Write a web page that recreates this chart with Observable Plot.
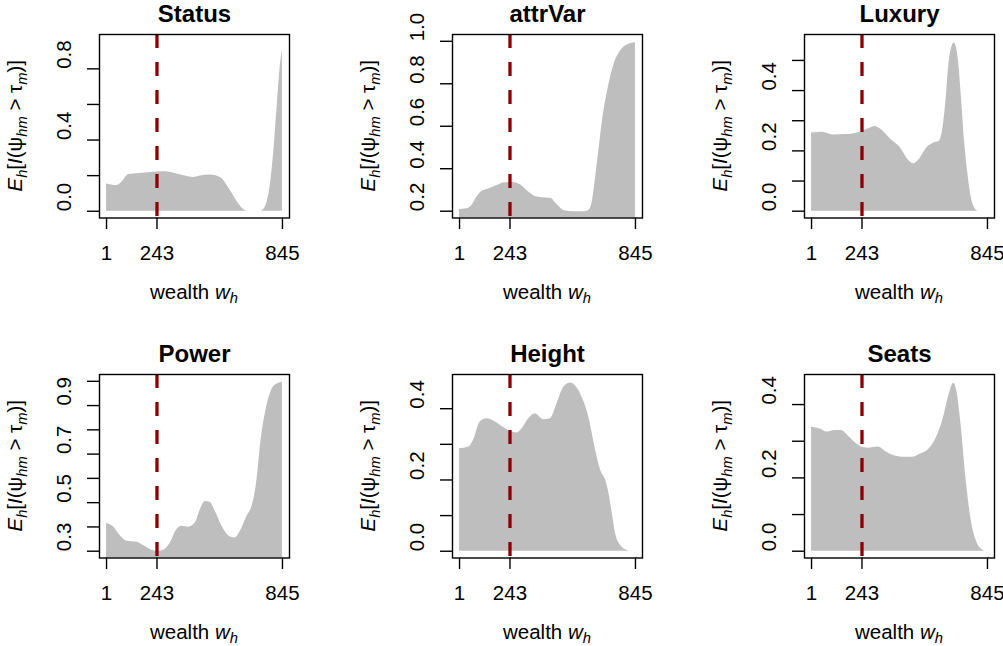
<!DOCTYPE html>
<html><head><meta charset="utf-8">
<script src="https://cdn.jsdelivr.net/npm/d3@7"></script>
<script src="https://cdn.jsdelivr.net/npm/@observablehq/plot@0.6"></script>
<style>
html,body{margin:0;padding:0;background:#fff;overflow:hidden;}
#wrap{position:relative;width:1003px;height:646px;background:#fff;}
#wrap svg{position:absolute;overflow:visible;max-width:none;}
</style></head><body><div id="wrap"></div>
<script>
// ---- data ----
const titles = ["Status", "attrVar", "Luxury", "Power", "Height", "Seats"];
const xTicks = [1, 243, 845];
const cutoff = 243;

const statusW = [1, 50, 75, 107, 131, 179, 243, 283, 339, 419, 451, 499, 547, 595, 635, 667, 675, 739, 755, 771, 787, 803, 819, 835, 845];
const statusP = [0.153, 0.144, 0.163, 0.206, 0.209, 0.213, 0.220, 0.222, 0.209, 0.190, 0.198, 0.204, 0.190, 0.116, 0.041, 0.004, 0, 0, 0.01, 0.05, 0.15, 0.33, 0.58, 0.82, 0.905];

const attrW = [1, 36, 60, 84, 108, 141, 181, 221, 261, 293, 333, 365, 397, 437, 469, 501, 549, 598, 622, 638, 654, 670, 686, 710, 742, 774, 806, 845];
const attrP = [0.208, 0.211, 0.227, 0.266, 0.293, 0.304, 0.321, 0.334, 0.335, 0.324, 0.290, 0.269, 0.263, 0.261, 0.231, 0.203, 0.197, 0.197, 0.205, 0.245, 0.36, 0.49, 0.62, 0.76, 0.89, 0.955, 0.982, 0.993];

const luxW = [1, 55, 103, 168, 233, 281, 305, 330, 378, 427, 467, 492, 516, 557, 589, 613, 630, 646, 662, 686, 706, 719, 735, 751, 767, 783, 800, 845];
const luxP = [0.259, 0.262, 0.253, 0.254, 0.262, 0.275, 0.281, 0.273, 0.240, 0.210, 0.168, 0.157, 0.170, 0.212, 0.226, 0.232, 0.268, 0.367, 0.5, 0.558, 0.5, 0.389, 0.234, 0.124, 0.046, 0.011, 0, 0];

const powW = [1, 35, 67, 99, 147, 179, 219, 243, 275, 307, 339, 363, 395, 427, 451, 475, 499, 523, 555, 595, 619, 643, 675, 699, 723, 739, 763, 787, 811, 845];
const powP = [0.414, 0.400, 0.364, 0.341, 0.337, 0.323, 0.304, 0.299, 0.304, 0.334, 0.389, 0.403, 0.399, 0.416, 0.471, 0.505, 0.501, 0.464, 0.403, 0.359, 0.355, 0.382, 0.444, 0.485, 0.595, 0.732, 0.868, 0.951, 0.985, 0.995];

const hgtW = [1, 44, 68, 100, 133, 173, 213, 245, 277, 301, 333, 365, 405, 437, 469, 502, 534, 581, 621, 654, 678, 702, 718, 734, 750, 774, 806, 820, 845];
const hgtP = [0.288, 0.292, 0.311, 0.363, 0.372, 0.363, 0.347, 0.336, 0.332, 0.344, 0.372, 0.386, 0.369, 0.372, 0.414, 0.461, 0.472, 0.442, 0.377, 0.283, 0.227, 0.199, 0.162, 0.105, 0.049, 0.016, 0.002, 0, 0];

const seatW = [1, 38, 79, 111, 144, 176, 208, 241, 273, 322, 354, 395, 443, 484, 524, 565, 597, 630, 662, 683, 699, 718, 743, 767, 791, 824, 832, 845];
const seatP = [0.338, 0.334, 0.325, 0.329, 0.329, 0.315, 0.297, 0.284, 0.281, 0.284, 0.273, 0.261, 0.256, 0.256, 0.265, 0.279, 0.306, 0.356, 0.429, 0.458, 0.434, 0.347, 0.193, 0.084, 0.029, 0.002, 0, 0];

// y ticks (all tick marks) and labelled ticks per panel
const yTicks = [
  [0, 0.2, 0.4, 0.6, 0.8],
  [0.2, 0.4, 0.6, 0.8, 1.0],
  [0, 0.1, 0.2, 0.3, 0.4, 0.5],
  [0.3, 0.4, 0.5, 0.6, 0.7, 0.8, 0.9, 1.0],
  [0, 0.1, 0.2, 0.3, 0.4],
  [0, 0.1, 0.2, 0.3, 0.4]
];
const yLabels = [
  [0, 0.4, 0.8],
  [0.2, 0.4, 0.6, 0.8, 1.0],
  [0, 0.2, 0.4],
  [0.3, 0.5, 0.7, 0.9],
  [0, 0.2, 0.4],
  [0, 0.2, 0.4]
];
const yDomains = [
  [-0.038, 0.993],
  [0.168, 1.032],
  [-0.0226, 0.586],
  [0.272, 1.028],
  [-0.019, 0.496],
  [-0.0185, 0.482]
];
const seriesW = [statusW, attrW, luxW, powW, hgtW, seatW];
const seriesP = [statusP, attrP, luxP, powP, hgtP, seatP];

// ---- layout ----
const W = 300, H = 310, ML = 99, MT = 34, MR = 11, MB = 92.5;
const colLeft = [0, 352.7, 705.3];
const rowTop = [0, 340];
const FONT = "'Liberation Sans', Arial, Helvetica, sans-serif";
const FS = 20.5;

const xr = 845 - 1;
const xDomain = [1 - 0.04 * xr, 845 + 0.04 * xr];

function addMath(svg, x, y, rot, parts, fs) {
  const t = d3.select(svg).append("text")
    .attr("transform", `translate(${x},${y}) rotate(${rot})`)
    .attr("text-anchor", "middle")
    .attr("font-family", FONT)
    .attr("font-size", fs)
    .attr("fill", "black");
  let inSub = false;
  for (const [s, it, sub] of parts) {
    const ts = t.append("tspan").text(s);
    if (it) ts.attr("font-style", "italic");
    if (sub) {
      ts.attr("font-size", fs * 0.72);
      if (!inSub) ts.attr("dy", fs * 0.24);
      inSub = true;
    } else {
      if (inSub) ts.attr("dy", -fs * 0.24);
      inSub = false;
    }
  }
}

const wrap = document.getElementById("wrap");
titles.forEach((title, i) => {
  const data = seriesW[i].map((w, j) => ({w, p: seriesP[i][j]}));
  const svg = Plot.plot({
    width: W, height: H,
    marginLeft: ML, marginTop: MT, marginRight: MR, marginBottom: MB,
    style: `font-family: ${FONT}; font-size: ${FS}px; overflow: visible; background: transparent;`,
    x: {domain: xDomain},
    y: {domain: yDomains[i]},
    marks: [
      Plot.areaY(data, {x: "w", y: "p", fill: "#BEBEBE", curve: "monotone-x", clip: true}),
      Plot.ruleX([cutoff], {stroke: "#8B0000", strokeWidth: 3.3, strokeDasharray: "14,14"}),
      Plot.frame({stroke: "black", strokeWidth: 1.4}),
      Plot.axisX(xTicks, {tickSize: 11.5, tickPadding: 15.5, label: null, tickFormat: d => String(d), strokeWidth: 1.4, fontSize: FS, fill: "black"}),
      Plot.axisY(yTicks[i], {tickSize: 12, label: null, tickFormat: () => "", strokeWidth: 1.4}),
      Plot.text(yLabels[i], {y: d => d, text: d => d.toFixed(1), frameAnchor: "left", dx: -35, rotate: -90, fontSize: FS, fill: "black"}),
      Plot.text([title], {frameAnchor: "top", dy: -13, lineAnchor: "bottom", fontWeight: "bold", fontSize: 24, fill: "black"})
    ]
  });
  svg.style.left = colLeft[i % 3] + "px";
  svg.style.top = rowTop[Math.floor(i / 3)] + "px";
  const fh = H - MT - MB;
  addMath(svg, ML - 77, MT + fh / 2, -90, [
    ["E", true, false], ["h", true, true], ["[", false, false], ["I", true, false],
    ["(\u03C8", false, false], ["hm", true, true], [" > \u03C4", false, false],
    ["m", true, true], [")]", false, false]
  ], FS);
  addMath(svg, ML + (W - ML - MR) / 2, H - MB + 81, 0, [
    ["wealth ", false, false], ["w", true, false], ["h", true, true]
  ], FS);
  wrap.appendChild(svg);
});
</script></body></html>
